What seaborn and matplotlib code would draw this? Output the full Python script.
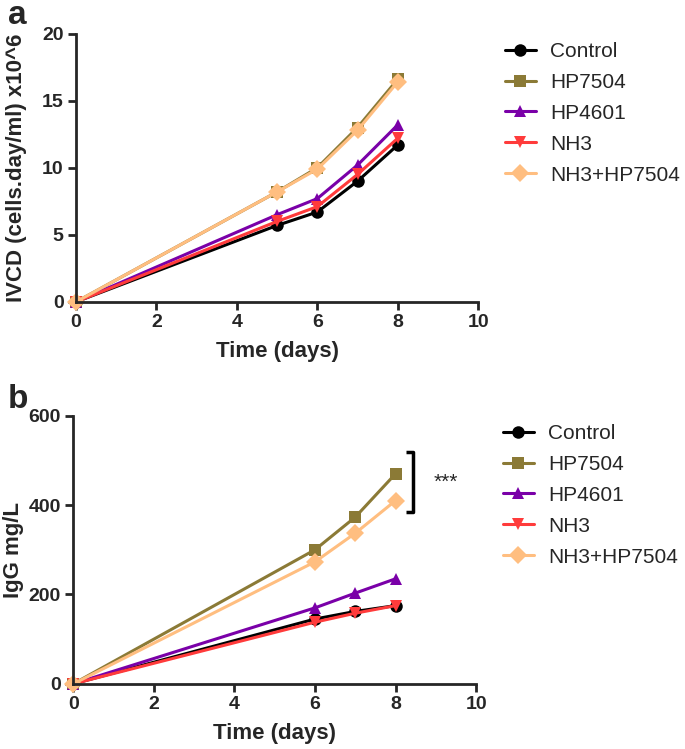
import numpy as np
import pandas as pd
import seaborn as sns
import matplotlib.pyplot as plt

GROUPS = ['Control', 'HP7504', 'HP4601', 'NH3', 'NH3+HP7504']
COLORS = ['#000000', '#8B7A36', '#7A00A8', '#FF3B3B', '#FFBE80']
MARKERS = ['o', 's', '^', 'v', 'D']

IVCD_DAYS = [0, 5, 6, 7, 8]
IVCD = {
    'Control':    [0, 5.7, 6.7, 9.0, 11.7],
    'HP7504':     [0, 8.2, 10.0, 13.0, 16.6],
    'HP4601':     [0, 6.5, 7.7, 10.2, 13.2],
    'NH3':        [0, 6.0, 7.1, 9.5, 12.2],
    'NH3+HP7504': [0, 8.2, 9.9, 12.8, 16.4],
}

IGG_DAYS = [0, 6, 7, 8]
IGG = {
    'Control':    [0, 145, 162, 175],
    'HP7504':     [0, 300, 373, 470],
    'HP4601':     [0, 170, 203, 235],
    'NH3':        [0, 138, 158, 175],
    'NH3+HP7504': [0, 273, 337, 410],
}


def to_long(days, values):
    rows = []
    for g in GROUPS:
        for d, v in zip(days, values[g]):
            rows.append({'Time': d, 'Value': v, 'Group': g})
    return pd.DataFrame(rows)


def draw_panel(ax, df, ylabel, ymax, ystep, ypad):
    sns.lineplot(data=df, x='Time', y='Value', hue='Group', style='Group',
                 hue_order=GROUPS, style_order=GROUPS,
                 palette=dict(zip(GROUPS, COLORS)),
                 markers=dict(zip(GROUPS, MARKERS)), dashes=False,
                 linewidth=2.2, markersize=9, markeredgewidth=0,
                 clip_on=False, ax=ax)
    ax.set_xlim(0, 10)
    ax.set_ylim(0, ymax)
    ax.set_xticks(np.arange(0, 11, 2))
    ax.set_yticks(np.arange(0, ymax + 1, ystep))
    ax.set_xlabel('Time (days)', fontsize=16, fontweight='bold', labelpad=7)
    ax.set_ylabel(ylabel, fontsize=16, fontweight='bold', labelpad=ypad)
    for lab in ax.get_xticklabels() + ax.get_yticklabels():
        lab.set_fontweight('bold')
        lab.set_fontsize(14)
    ax.tick_params(width=2, length=6, direction='out', pad=3)
    for s in ['left', 'bottom']:
        ax.spines[s].set_linewidth(2)
    for s in ['top', 'right']:
        ax.spines[s].set_visible(False)
    leg = ax.legend(loc='upper left', bbox_to_anchor=(1.047, 1.0), frameon=False,
                    fontsize=15, handlelength=1.45, labelspacing=0.57,
                    handletextpad=0.7, borderaxespad=0)
    for h in leg.legend_handles:
        h.set_linewidth(2.2)


sns.set_theme(style='ticks')
plt.rcParams['font.family'] = ['Liberation Sans', 'DejaVu Sans']

fig = plt.figure(figsize=(6.85, 7.49), dpi=100)
ax_a = fig.add_axes([0.111, 0.597, 0.587, 0.358])
ax_b = fig.add_axes([0.107, 0.087, 0.588, 0.358])

draw_panel(ax_a, to_long(IVCD_DAYS, IVCD), 'IVCD (cells.day/ml) x10^6', 20, 5, 11)
draw_panel(ax_b, to_long(IGG_DAYS, IGG), 'IgG mg/L', 600, 200, 3)

# significance bracket
ax_b.plot([8.25, 8.44, 8.44, 8.25], [519, 519, 385, 385], color='black',
          linewidth=2.5, clip_on=False, solid_capstyle='butt')
ax_b.text(8.95, 452, '***', fontsize=15, ha='left', va='center')

fig.text(0.012, 0.968, 'a', fontsize=24, fontweight='bold', va='baseline')
fig.text(0.012, 0.455, 'b', fontsize=24, fontweight='bold', va='baseline')

fig.savefig('out.png', dpi=100, facecolor='white')
